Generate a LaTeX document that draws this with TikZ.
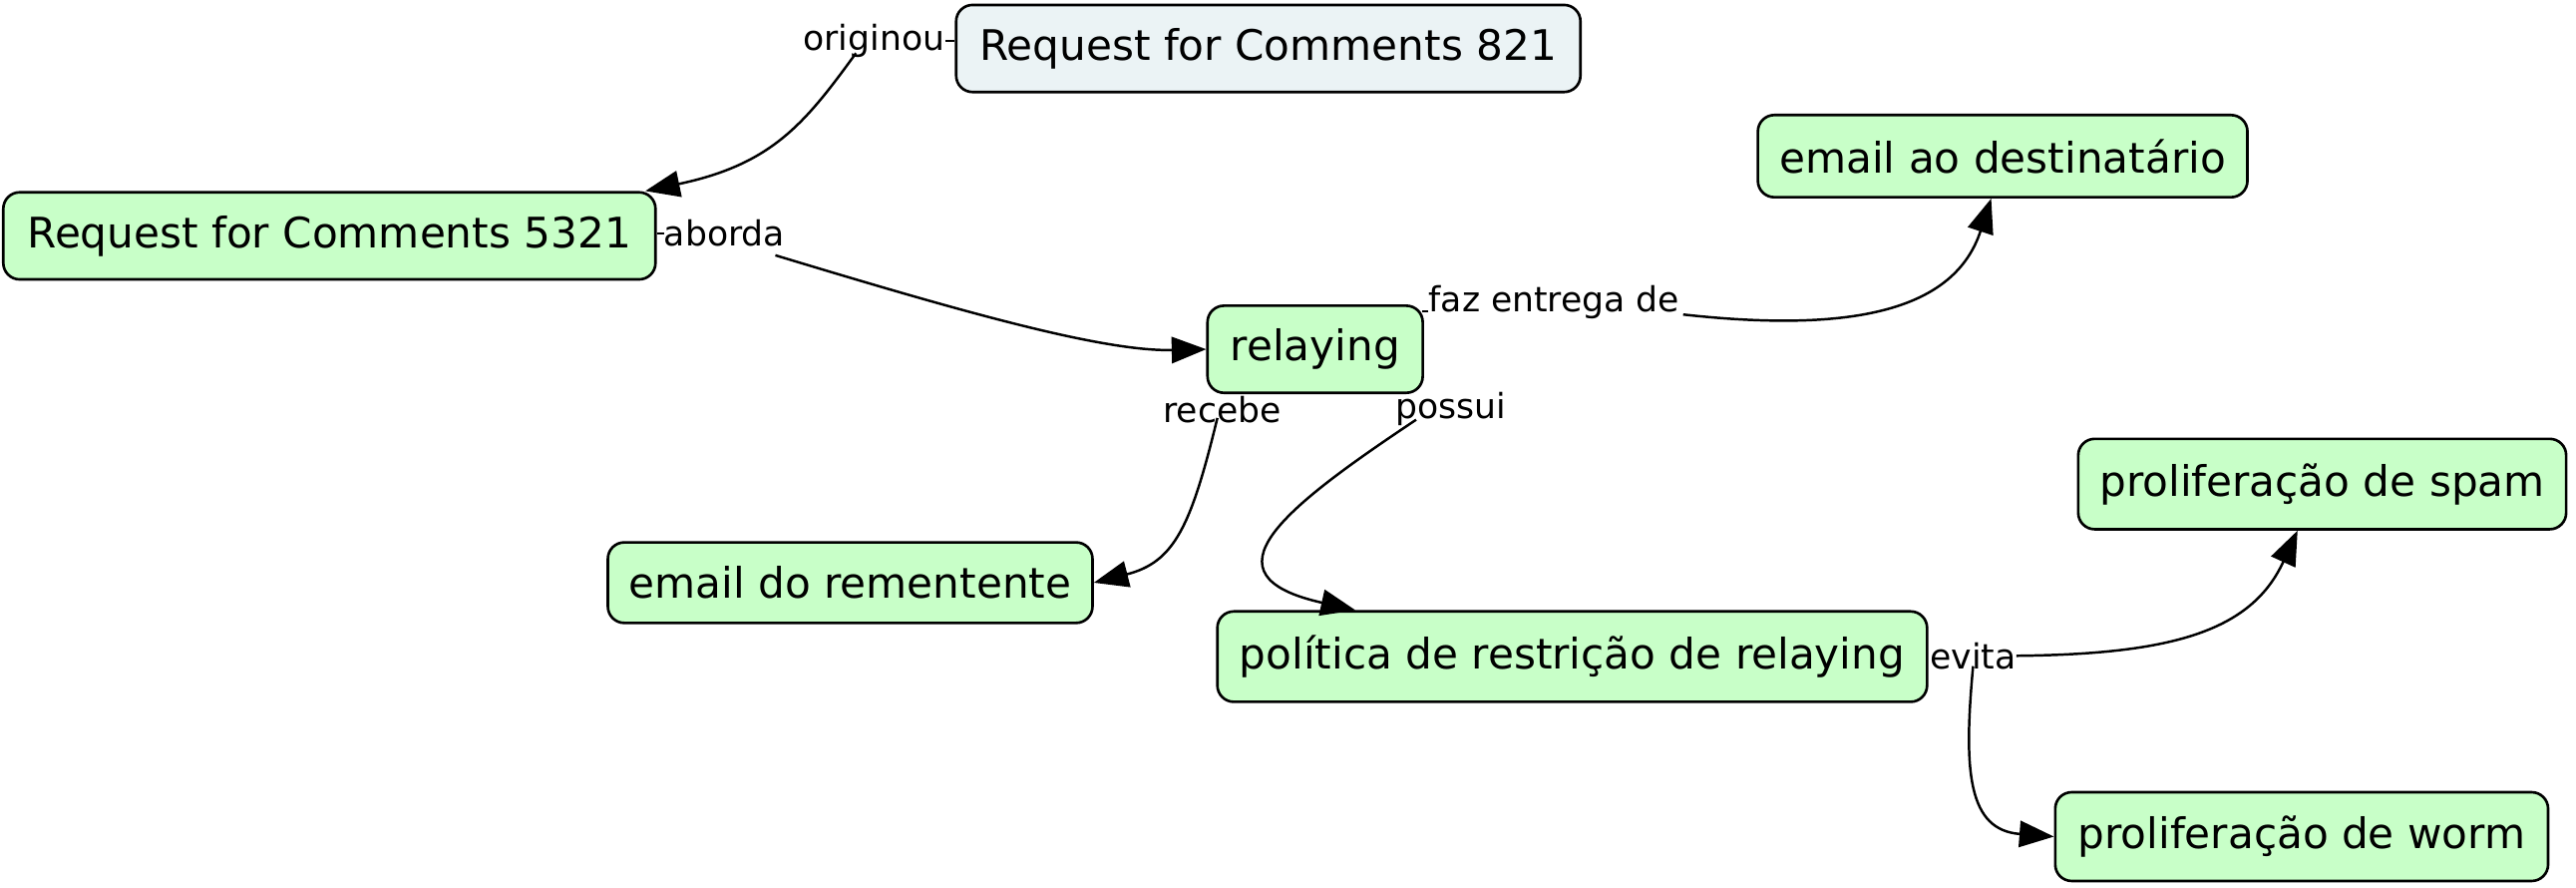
\documentclass[tikz,border=0pt]{standalone}
\usepackage{fontspec}
\setmainfont{DejaVu Sans}
\usetikzlibrary{arrows.meta}
\definecolor{cgreen}{HTML}{C8FFC8}
\definecolor{clight}{HTML}{EBF3F5}
\begin{document}
\begin{tikzpicture}[x=1pt,y=-1pt,
  box/.style={draw=black, line width=1.6pt, rounded corners=10pt, fill=cgreen, inner sep=0pt, font=\fontsize{25.6}{30}\selectfont, anchor=center},
  lbl/.style={inner sep=0pt, font=\fontsize{21}{25}\selectfont, anchor=center},
  conn/.style={draw=black, line width=1.5pt},
  arr/.style={conn, -{Triangle[length=21pt,width=16pt]}}]
\useasboundingbox (0,0) rectangle (1568,540);
\node[box, fill=clight, minimum width=380, minimum height=53] (rfc821) at (772,29.5) {Request for Comments 821};
\node[box, minimum width=397, minimum height=53] (rfc5321) at (200.5,143.5) {Request for Comments 5321};
\node[box, minimum width=298, minimum height=50] (dest) at (1219,95) {email ao destinatário};
\node[box, minimum width=131, minimum height=53] (relay) at (800.5,212.5) {relaying};
\node[box, minimum width=295, minimum height=49] (rem) at (517.5,354.5) {email do rementente};
\node[box, minimum width=297, minimum height=55] (spam) at (1413.5,294.5) {proliferação de spam};
\node[box, minimum width=432, minimum height=55] (pol) at (957,399.5) {política de restrição de relaying};
\node[box, minimum width=300, minimum height=54] (worm) at (1401,509) {proliferação de worm};

\node[lbl] (orig) at (532,25) {originou};
\node[lbl] (abor) at (441,142) {aborda};
\node[lbl] (faz) at (946,184) {faz entrega de};
\node[lbl] (rec) at (744,249) {recebe};
\node[lbl] (pos) at (883,249) {possui};
\node[lbl] (evi) at (1201,399) {evita};

\draw[conn] (orig.east) -- (orig.east -| rfc821.west);
\draw[conn] (abor.west) -- (abor.west -| rfc5321.east);
\draw[conn] ([yshift=5]faz.south west) -- ++(-4,0);

\draw[arr] ([xshift=-11,yshift=3]orig.south) .. controls (490,75) and (470,100) .. ([xshift=-7]rfc5321.north east);
\draw[arr] ([xshift=-6,yshift=-5]abor.south east) .. controls (580,188) and (670,214) .. (relay.west);
\draw[arr] ([xshift=2,yshift=3]faz.south east) .. controls (1130,203) and (1190,188) .. ([xshift=-7]dest.south);
\draw[arr] ([xshift=-3,yshift=3]rec.south) .. controls (725,320) and (715,342) .. (rem.east);
\draw[arr] ([xshift=-21,yshift=4]pos.south) .. controls (780,310) and (730,350) .. ([xshift=-132]pol.north);
\draw[arr] (evi.east) .. controls (1320,398) and (1370,385) .. ([xshift=-15]spam.south);
\draw[arr] ([yshift=2]evi.south) .. controls (1195,470) and (1198,505) .. (worm.west);
\end{tikzpicture}
\end{document}
